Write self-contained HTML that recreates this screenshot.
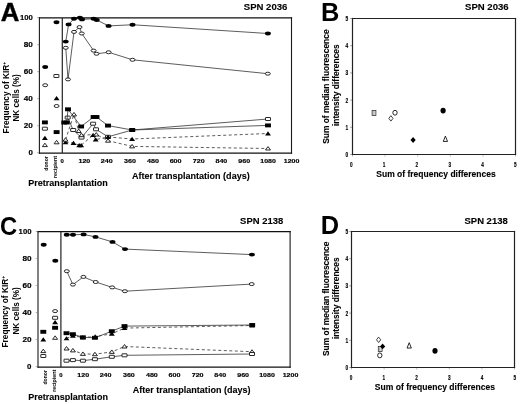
<!DOCTYPE html>
<html><head><meta charset="utf-8"><style>
html,body{margin:0;padding:0;background:#fff;width:520px;height:404px;overflow:hidden}
svg{display:block;filter:grayscale(1)}
text{font-family:"Liberation Sans", sans-serif}
</style></head><body>
<svg width="520" height="404" viewBox="0 0 520 404">
<rect width="520" height="404" fill="#fff"/>
<text x="0.80" y="21.20" font-size="25.0" text-anchor="start" font-weight="bold" fill="#000" textLength="18.6" lengthAdjust="spacingAndGlyphs" stroke="#000" stroke-width="0.4">A</text>
<text x="321.10" y="20.50" font-size="25.4" text-anchor="start" font-weight="bold" fill="#000">B</text>
<text x="-0.05" y="234.60" font-size="26" text-anchor="start" font-weight="bold" fill="#000" textLength="17.2" lengthAdjust="spacingAndGlyphs">C</text>
<text x="320.80" y="233.60" font-size="25.4" text-anchor="start" font-weight="bold" fill="#000">D</text>
<text x="243.80" y="9.80" font-size="9.5" text-anchor="start" font-weight="bold" fill="#000" textLength="43.6" lengthAdjust="spacingAndGlyphs" stroke="#000" stroke-width="0.12">SPN 2036</text>
<text x="465.00" y="10.20" font-size="9.5" text-anchor="start" font-weight="bold" fill="#000" textLength="43.6" lengthAdjust="spacingAndGlyphs" stroke="#000" stroke-width="0.12">SPN 2036</text>
<text x="240.10" y="224.00" font-size="9.5" text-anchor="start" font-weight="bold" fill="#000" textLength="43.2" lengthAdjust="spacingAndGlyphs" stroke="#000" stroke-width="0.12">SPN 2138</text>
<text x="464.50" y="224.40" font-size="9.5" text-anchor="start" font-weight="bold" fill="#000" textLength="43.2" lengthAdjust="spacingAndGlyphs" stroke="#000" stroke-width="0.12">SPN 2138</text>
<text x="131.90" y="178.50" font-size="9.0" text-anchor="start" font-weight="bold" fill="#000" textLength="117.8" lengthAdjust="spacingAndGlyphs" stroke="#000" stroke-width="0.1">After transplantation (days)</text>
<text x="132.70" y="392.90" font-size="9.0" text-anchor="start" font-weight="bold" fill="#000" textLength="117.8" lengthAdjust="spacingAndGlyphs" stroke="#000" stroke-width="0.1">After transplantation (days)</text>
<text x="28.20" y="185.90" font-size="8.8" text-anchor="start" font-weight="bold" fill="#000" textLength="79.6" lengthAdjust="spacingAndGlyphs" stroke="#000" stroke-width="0.1">Pretransplantation</text>
<text x="28.30" y="399.80" font-size="8.8" text-anchor="start" font-weight="bold" fill="#000" textLength="79.6" lengthAdjust="spacingAndGlyphs" stroke="#000" stroke-width="0.1">Pretransplantation</text>
<text x="376.30" y="176.75" font-size="8.3" text-anchor="start" font-weight="bold" fill="#000" textLength="119.4" lengthAdjust="spacingAndGlyphs" stroke="#000" stroke-width="0.12">Sum of frequency differences</text>
<text x="374.80" y="389.50" font-size="8.3" text-anchor="start" font-weight="bold" fill="#000" textLength="120.2" lengthAdjust="spacingAndGlyphs" stroke="#000" stroke-width="0.12">Sum of frequency differences</text>
<line x1="39.40" y1="17.30" x2="39.40" y2="153.70" stroke="#1a1a1a" stroke-width="1.1"/>
<line x1="291.50" y1="17.30" x2="291.50" y2="153.70" stroke="#1a1a1a" stroke-width="1.1"/>
<line x1="38.90" y1="17.90" x2="292.10" y2="17.90" stroke="#111" stroke-width="1.3"/>
<line x1="38.90" y1="153.10" x2="292.10" y2="153.10" stroke="#111" stroke-width="1.3"/>
<line x1="62.30" y1="17.90" x2="62.30" y2="153.10" stroke="#222" stroke-width="1.2"/>
<line x1="37.10" y1="152.75" x2="38.90" y2="152.75" stroke="#888" stroke-width="0.7"/>
<text x="32.90" y="155.10" font-size="6.6" text-anchor="end" font-weight="bold" fill="#000" textLength="4.4" lengthAdjust="spacingAndGlyphs" stroke="#000" stroke-width="0.15">0</text>
<line x1="37.10" y1="125.72" x2="38.90" y2="125.72" stroke="#888" stroke-width="0.7"/>
<text x="32.90" y="128.07" font-size="6.6" text-anchor="end" font-weight="bold" fill="#000" textLength="9.1" lengthAdjust="spacingAndGlyphs" stroke="#000" stroke-width="0.15">20</text>
<line x1="37.10" y1="98.69" x2="38.90" y2="98.69" stroke="#888" stroke-width="0.7"/>
<text x="32.90" y="101.04" font-size="6.6" text-anchor="end" font-weight="bold" fill="#000" textLength="9.1" lengthAdjust="spacingAndGlyphs" stroke="#000" stroke-width="0.15">40</text>
<line x1="37.10" y1="71.66" x2="38.90" y2="71.66" stroke="#888" stroke-width="0.7"/>
<text x="32.90" y="74.01" font-size="6.6" text-anchor="end" font-weight="bold" fill="#000" textLength="9.1" lengthAdjust="spacingAndGlyphs" stroke="#000" stroke-width="0.15">60</text>
<line x1="37.10" y1="44.63" x2="38.90" y2="44.63" stroke="#888" stroke-width="0.7"/>
<text x="32.90" y="46.98" font-size="6.6" text-anchor="end" font-weight="bold" fill="#000" textLength="9.1" lengthAdjust="spacingAndGlyphs" stroke="#000" stroke-width="0.15">80</text>
<line x1="37.10" y1="17.60" x2="38.90" y2="17.60" stroke="#888" stroke-width="0.7"/>
<text x="32.90" y="19.95" font-size="6.6" text-anchor="end" font-weight="bold" fill="#000" textLength="12.9" lengthAdjust="spacingAndGlyphs" stroke="#000" stroke-width="0.15">100</text>
<text x="62.10" y="162.60" font-size="5.4" text-anchor="middle" font-weight="bold" fill="#000" textLength="3.3" lengthAdjust="spacingAndGlyphs" stroke="#000" stroke-width="0.15">0</text>
<text x="84.40" y="162.60" font-size="5.4" text-anchor="middle" font-weight="bold" fill="#000" textLength="11.9" lengthAdjust="spacingAndGlyphs" stroke="#000" stroke-width="0.15">120</text>
<text x="106.70" y="162.60" font-size="5.4" text-anchor="middle" font-weight="bold" fill="#000" textLength="11.9" lengthAdjust="spacingAndGlyphs" stroke="#000" stroke-width="0.15">240</text>
<text x="130.00" y="162.60" font-size="5.4" text-anchor="middle" font-weight="bold" fill="#000" textLength="11.9" lengthAdjust="spacingAndGlyphs" stroke="#000" stroke-width="0.15">360</text>
<text x="153.00" y="162.60" font-size="5.4" text-anchor="middle" font-weight="bold" fill="#000" textLength="11.9" lengthAdjust="spacingAndGlyphs" stroke="#000" stroke-width="0.15">480</text>
<text x="175.60" y="162.60" font-size="5.4" text-anchor="middle" font-weight="bold" fill="#000" textLength="11.9" lengthAdjust="spacingAndGlyphs" stroke="#000" stroke-width="0.15">600</text>
<text x="198.75" y="162.60" font-size="5.4" text-anchor="middle" font-weight="bold" fill="#000" textLength="11.9" lengthAdjust="spacingAndGlyphs" stroke="#000" stroke-width="0.15">720</text>
<text x="221.40" y="162.60" font-size="5.4" text-anchor="middle" font-weight="bold" fill="#000" textLength="11.9" lengthAdjust="spacingAndGlyphs" stroke="#000" stroke-width="0.15">840</text>
<text x="244.25" y="162.60" font-size="5.4" text-anchor="middle" font-weight="bold" fill="#000" textLength="11.9" lengthAdjust="spacingAndGlyphs" stroke="#000" stroke-width="0.15">960</text>
<text x="268.10" y="162.60" font-size="5.4" text-anchor="middle" font-weight="bold" fill="#000" textLength="15.6" lengthAdjust="spacingAndGlyphs" stroke="#000" stroke-width="0.15">1080</text>
<text x="291.60" y="162.60" font-size="5.4" text-anchor="middle" font-weight="bold" fill="#000" textLength="15.6" lengthAdjust="spacingAndGlyphs" stroke="#000" stroke-width="0.15">1200</text>
<text x="47.90" y="170.70" font-size="5.2" text-anchor="start" font-weight="bold" fill="#000" textLength="14.5" lengthAdjust="spacingAndGlyphs" transform="rotate(-90 47.90 170.70)">donor</text>
<text x="57.30" y="178.00" font-size="5.2" text-anchor="start" font-weight="bold" fill="#000" textLength="22" lengthAdjust="spacingAndGlyphs" transform="rotate(-90 57.30 178.00)">recipient</text>
<text x="9.00" y="133.40" font-size="8.3" text-anchor="start" font-weight="bold" fill="#000" transform="rotate(-90 9.00 133.40)">Frequency of KIR<tspan font-size="5" dy="-3">+</tspan></text>
<text x="18.90" y="121.60" font-size="8.3" text-anchor="start" font-weight="bold" fill="#000" textLength="47.4" lengthAdjust="spacingAndGlyphs" transform="rotate(-90 18.90 121.60)">NK cells (%)</text>
<polyline points="65.75,41.6 68.6,24.4 74,18.75 79.9,17.75 82,19.4 93.6,18.75 96.75,20 108.6,25.9 132.5,24.75 267.9,33.5" fill="none" stroke="#333" stroke-width="0.8"/>
<ellipse cx="65.75" cy="41.6" rx="2.95" ry="1.95" fill="#000"/>
<ellipse cx="68.6" cy="24.4" rx="2.95" ry="1.95" fill="#000"/>
<ellipse cx="74" cy="18.75" rx="2.95" ry="1.95" fill="#000"/>
<ellipse cx="79.9" cy="17.75" rx="2.95" ry="1.95" fill="#000"/>
<ellipse cx="82" cy="19.4" rx="2.95" ry="1.95" fill="#000"/>
<ellipse cx="93.6" cy="18.75" rx="2.95" ry="1.95" fill="#000"/>
<ellipse cx="96.75" cy="20" rx="2.95" ry="1.95" fill="#000"/>
<ellipse cx="108.6" cy="25.9" rx="2.95" ry="1.95" fill="#000"/>
<ellipse cx="132.5" cy="24.75" rx="2.95" ry="1.95" fill="#000"/>
<ellipse cx="267.9" cy="33.5" rx="2.95" ry="1.95" fill="#000"/>
<polyline points="65.75,47.8 68,79.4 74,31.9 79.5,27.1 81.75,33.5 93.6,50.6 96.5,53.75 108.6,52.25 132.5,59.8 267.8,73.7" fill="none" stroke="#333" stroke-width="0.8"/>
<ellipse cx="65.75" cy="47.8" rx="2.5" ry="1.5" fill="#fff" stroke="#111" stroke-width="0.9"/>
<ellipse cx="68" cy="79.4" rx="2.5" ry="1.5" fill="#fff" stroke="#111" stroke-width="0.9"/>
<ellipse cx="74" cy="31.9" rx="2.5" ry="1.5" fill="#fff" stroke="#111" stroke-width="0.9"/>
<ellipse cx="79.5" cy="27.1" rx="2.5" ry="1.5" fill="#fff" stroke="#111" stroke-width="0.9"/>
<ellipse cx="81.75" cy="33.5" rx="2.5" ry="1.5" fill="#fff" stroke="#111" stroke-width="0.9"/>
<ellipse cx="93.6" cy="50.6" rx="2.5" ry="1.5" fill="#fff" stroke="#111" stroke-width="0.9"/>
<ellipse cx="96.5" cy="53.75" rx="2.5" ry="1.5" fill="#fff" stroke="#111" stroke-width="0.9"/>
<ellipse cx="108.6" cy="52.25" rx="2.5" ry="1.5" fill="#fff" stroke="#111" stroke-width="0.9"/>
<ellipse cx="132.5" cy="59.8" rx="2.5" ry="1.5" fill="#fff" stroke="#111" stroke-width="0.9"/>
<ellipse cx="267.8" cy="73.7" rx="2.5" ry="1.5" fill="#fff" stroke="#111" stroke-width="0.9"/>
<polyline points="67.7,117.6 73.2,130 81.5,137.6 93.1,123.7 96,129.3 108,136.8 132.2,130 268,119" fill="none" stroke="#333" stroke-width="0.8"/>
<rect x="65.2" y="116.1" width="5.0" height="3.0" rx="0.25" fill="#fff" stroke="#111" stroke-width="0.9"/>
<rect x="70.7" y="128.5" width="5.0" height="3.0" rx="0.25" fill="#fff" stroke="#111" stroke-width="0.9"/>
<rect x="79.0" y="136.1" width="5.0" height="3.0" rx="0.25" fill="#fff" stroke="#111" stroke-width="0.9"/>
<rect x="90.6" y="122.2" width="5.0" height="3.0" rx="0.25" fill="#fff" stroke="#111" stroke-width="0.9"/>
<rect x="93.5" y="127.80000000000001" width="5.0" height="3.0" rx="0.25" fill="#fff" stroke="#111" stroke-width="0.9"/>
<rect x="105.5" y="135.3" width="5.0" height="3.0" rx="0.25" fill="#fff" stroke="#111" stroke-width="0.9"/>
<rect x="129.7" y="128.5" width="5.0" height="3.0" rx="0.25" fill="#fff" stroke="#111" stroke-width="0.9"/>
<rect x="265.5" y="117.5" width="5.0" height="3.0" rx="0.25" fill="#fff" stroke="#111" stroke-width="0.9"/>
<polyline points="64.3,122.5 66.8,122.5 68,109.3 81.1,126.5 93.6,117 96.5,117 108,125.6 132.2,130 268,125.4" fill="none" stroke="#333" stroke-width="0.8"/>
<rect x="61.349999999999994" y="120.55" width="5.9" height="3.9" fill="#000"/>
<rect x="63.849999999999994" y="120.55" width="5.9" height="3.9" fill="#000"/>
<rect x="65.05" y="107.35" width="5.9" height="3.9" fill="#000"/>
<rect x="78.14999999999999" y="124.55" width="5.9" height="3.9" fill="#000"/>
<rect x="90.64999999999999" y="115.05" width="5.9" height="3.9" fill="#000"/>
<rect x="93.55" y="115.05" width="5.9" height="3.9" fill="#000"/>
<rect x="105.05" y="123.64999999999999" width="5.9" height="3.9" fill="#000"/>
<rect x="129.25" y="128.05" width="5.9" height="3.9" fill="#000"/>
<rect x="265.05" y="123.45" width="5.9" height="3.9" fill="#000"/>
<polyline points="65.5,142.4 73.5,143.1 79.2,145.2 81.2,145.2 93.1,135 95.7,139.6 108,137 132.1,139 268,133.5" fill="none" stroke="#333" stroke-width="0.8" stroke-dasharray="3,2.5"/>
<path d="M65.5,140.15 L68.45,144.35 L62.55,144.35 Z" fill="#000"/>
<path d="M73.5,140.85 L76.45,145.04999999999998 L70.55,145.04999999999998 Z" fill="#000"/>
<path d="M79.2,142.95 L82.15,147.14999999999998 L76.25,147.14999999999998 Z" fill="#000"/>
<path d="M81.2,142.95 L84.15,147.14999999999998 L78.25,147.14999999999998 Z" fill="#000"/>
<path d="M93.1,132.75 L96.05,136.95 L90.14999999999999,136.95 Z" fill="#000"/>
<path d="M95.7,137.35 L98.65,141.54999999999998 L92.75,141.54999999999998 Z" fill="#000"/>
<path d="M108,134.75 L110.95,138.95 L105.05,138.95 Z" fill="#000"/>
<path d="M132.1,136.75 L135.04999999999998,140.95 L129.15,140.95 Z" fill="#000"/>
<path d="M268,131.25 L270.95,135.45 L265.05,135.45 Z" fill="#000"/>
<polyline points="65.5,139.7 74,114.4 78.7,131 81.5,135.2 96.3,134.5 108,140.7 132.1,146.4 268,148.5" fill="none" stroke="#333" stroke-width="0.8" stroke-dasharray="3,2.5"/>
<path d="M65.5,137.75 L68.0,141.2 L63.0,141.2 Z" fill="#fff" stroke="#111" stroke-width="0.9" stroke-linejoin="round"/>
<path d="M74,112.45 L76.5,115.9 L71.5,115.9 Z" fill="#fff" stroke="#111" stroke-width="0.9" stroke-linejoin="round"/>
<path d="M78.7,129.05 L81.2,132.5 L76.2,132.5 Z" fill="#fff" stroke="#111" stroke-width="0.9" stroke-linejoin="round"/>
<path d="M81.5,133.25 L84.0,136.7 L79.0,136.7 Z" fill="#fff" stroke="#111" stroke-width="0.9" stroke-linejoin="round"/>
<path d="M96.3,132.55 L98.8,136.0 L93.8,136.0 Z" fill="#fff" stroke="#111" stroke-width="0.9" stroke-linejoin="round"/>
<path d="M108,138.75 L110.5,142.2 L105.5,142.2 Z" fill="#fff" stroke="#111" stroke-width="0.9" stroke-linejoin="round"/>
<path d="M132.1,144.45000000000002 L134.6,147.9 L129.6,147.9 Z" fill="#fff" stroke="#111" stroke-width="0.9" stroke-linejoin="round"/>
<path d="M268,146.55 L270.5,150.0 L265.5,150.0 Z" fill="#fff" stroke="#111" stroke-width="0.9" stroke-linejoin="round"/>
<ellipse cx="45.2" cy="67" rx="2.95" ry="1.95" fill="#000"/>
<ellipse cx="45.2" cy="85.2" rx="2.5" ry="1.5" fill="#fff" stroke="#111" stroke-width="0.9"/>
<rect x="41.949999999999996" y="120.45" width="5.9" height="3.9" fill="#000"/>
<rect x="42.4" y="127.19999999999999" width="5.0" height="3.0" rx="0.25" fill="#fff" stroke="#111" stroke-width="0.9"/>
<path d="M44.9,135.75 L47.85,139.95 L41.949999999999996,139.95 Z" fill="#000"/>
<path d="M44.9,143.15 L47.4,146.6 L42.4,146.6 Z" fill="#fff" stroke="#111" stroke-width="0.9" stroke-linejoin="round"/>
<ellipse cx="56.5" cy="22.3" rx="2.95" ry="1.95" fill="#000"/>
<rect x="53.9" y="74.5" width="5.0" height="3.0" rx="0.25" fill="#fff" stroke="#111" stroke-width="0.9"/>
<path d="M56.6,95.95 L59.550000000000004,100.15 L53.65,100.15 Z" fill="#000"/>
<ellipse cx="56.6" cy="106" rx="2.5" ry="1.5" fill="#fff" stroke="#111" stroke-width="0.9"/>
<rect x="53.65" y="130.15" width="5.9" height="3.9" fill="#000"/>
<path d="M56.6,140.35000000000002 L59.1,143.8 L54.1,143.8 Z" fill="#fff" stroke="#111" stroke-width="0.9" stroke-linejoin="round"/>
<line x1="38.00" y1="231.10" x2="38.00" y2="367.70" stroke="#1a1a1a" stroke-width="1.1"/>
<line x1="290.10" y1="231.10" x2="290.10" y2="367.70" stroke="#1a1a1a" stroke-width="1.1"/>
<line x1="37.50" y1="231.70" x2="290.70" y2="231.70" stroke="#111" stroke-width="1.3"/>
<line x1="37.50" y1="367.10" x2="290.70" y2="367.10" stroke="#111" stroke-width="1.3"/>
<line x1="60.90" y1="231.70" x2="60.90" y2="367.10" stroke="#222" stroke-width="1.2"/>
<line x1="35.70" y1="366.55" x2="37.50" y2="366.55" stroke="#888" stroke-width="0.7"/>
<text x="31.50" y="368.90" font-size="6.6" text-anchor="end" font-weight="bold" fill="#000" textLength="4.4" lengthAdjust="spacingAndGlyphs" stroke="#000" stroke-width="0.15">0</text>
<line x1="35.70" y1="339.52" x2="37.50" y2="339.52" stroke="#888" stroke-width="0.7"/>
<text x="31.50" y="341.87" font-size="6.6" text-anchor="end" font-weight="bold" fill="#000" textLength="9.1" lengthAdjust="spacingAndGlyphs" stroke="#000" stroke-width="0.15">20</text>
<line x1="35.70" y1="312.49" x2="37.50" y2="312.49" stroke="#888" stroke-width="0.7"/>
<text x="31.50" y="314.84" font-size="6.6" text-anchor="end" font-weight="bold" fill="#000" textLength="9.1" lengthAdjust="spacingAndGlyphs" stroke="#000" stroke-width="0.15">40</text>
<line x1="35.70" y1="285.46" x2="37.50" y2="285.46" stroke="#888" stroke-width="0.7"/>
<text x="31.50" y="287.81" font-size="6.6" text-anchor="end" font-weight="bold" fill="#000" textLength="9.1" lengthAdjust="spacingAndGlyphs" stroke="#000" stroke-width="0.15">60</text>
<line x1="35.70" y1="258.43" x2="37.50" y2="258.43" stroke="#888" stroke-width="0.7"/>
<text x="31.50" y="260.78" font-size="6.6" text-anchor="end" font-weight="bold" fill="#000" textLength="9.1" lengthAdjust="spacingAndGlyphs" stroke="#000" stroke-width="0.15">80</text>
<line x1="35.70" y1="231.40" x2="37.50" y2="231.40" stroke="#888" stroke-width="0.7"/>
<text x="31.50" y="233.75" font-size="6.6" text-anchor="end" font-weight="bold" fill="#000" textLength="12.9" lengthAdjust="spacingAndGlyphs" stroke="#000" stroke-width="0.15">100</text>
<text x="61.00" y="376.90" font-size="5.4" text-anchor="middle" font-weight="bold" fill="#000" textLength="3.3" lengthAdjust="spacingAndGlyphs" stroke="#000" stroke-width="0.15">0</text>
<text x="83.30" y="376.90" font-size="5.4" text-anchor="middle" font-weight="bold" fill="#000" textLength="11.9" lengthAdjust="spacingAndGlyphs" stroke="#000" stroke-width="0.15">120</text>
<text x="105.60" y="376.90" font-size="5.4" text-anchor="middle" font-weight="bold" fill="#000" textLength="11.9" lengthAdjust="spacingAndGlyphs" stroke="#000" stroke-width="0.15">240</text>
<text x="128.90" y="376.90" font-size="5.4" text-anchor="middle" font-weight="bold" fill="#000" textLength="11.9" lengthAdjust="spacingAndGlyphs" stroke="#000" stroke-width="0.15">360</text>
<text x="151.90" y="376.90" font-size="5.4" text-anchor="middle" font-weight="bold" fill="#000" textLength="11.9" lengthAdjust="spacingAndGlyphs" stroke="#000" stroke-width="0.15">480</text>
<text x="174.50" y="376.90" font-size="5.4" text-anchor="middle" font-weight="bold" fill="#000" textLength="11.9" lengthAdjust="spacingAndGlyphs" stroke="#000" stroke-width="0.15">600</text>
<text x="197.65" y="376.90" font-size="5.4" text-anchor="middle" font-weight="bold" fill="#000" textLength="11.9" lengthAdjust="spacingAndGlyphs" stroke="#000" stroke-width="0.15">720</text>
<text x="220.30" y="376.90" font-size="5.4" text-anchor="middle" font-weight="bold" fill="#000" textLength="11.9" lengthAdjust="spacingAndGlyphs" stroke="#000" stroke-width="0.15">840</text>
<text x="243.15" y="376.90" font-size="5.4" text-anchor="middle" font-weight="bold" fill="#000" textLength="11.9" lengthAdjust="spacingAndGlyphs" stroke="#000" stroke-width="0.15">960</text>
<text x="267.00" y="376.90" font-size="5.4" text-anchor="middle" font-weight="bold" fill="#000" textLength="15.6" lengthAdjust="spacingAndGlyphs" stroke="#000" stroke-width="0.15">1080</text>
<text x="290.50" y="376.90" font-size="5.4" text-anchor="middle" font-weight="bold" fill="#000" textLength="15.6" lengthAdjust="spacingAndGlyphs" stroke="#000" stroke-width="0.15">1200</text>
<text x="46.50" y="384.50" font-size="5.2" text-anchor="start" font-weight="bold" fill="#000" textLength="14.5" lengthAdjust="spacingAndGlyphs" transform="rotate(-90 46.50 384.50)">donor</text>
<text x="55.90" y="391.80" font-size="5.2" text-anchor="start" font-weight="bold" fill="#000" textLength="22" lengthAdjust="spacingAndGlyphs" transform="rotate(-90 55.90 391.80)">recipient</text>
<text x="7.90" y="347.50" font-size="8.3" text-anchor="start" font-weight="bold" fill="#000" transform="rotate(-90 7.90 347.50)">Frequency of KIR<tspan font-size="5" dy="-3">+</tspan></text>
<text x="18.60" y="334.60" font-size="8.3" text-anchor="start" font-weight="bold" fill="#000" textLength="47.4" lengthAdjust="spacingAndGlyphs" transform="rotate(-90 18.60 334.60)">NK cells (%)</text>
<polyline points="66.75,234.75 73,234.75 83.6,234.4 95.5,236.9 112.5,241.9 125,249.1 251.9,254.6" fill="none" stroke="#333" stroke-width="0.8"/>
<ellipse cx="66.75" cy="234.75" rx="2.95" ry="1.95" fill="#000"/>
<ellipse cx="73" cy="234.75" rx="2.95" ry="1.95" fill="#000"/>
<ellipse cx="83.6" cy="234.4" rx="2.95" ry="1.95" fill="#000"/>
<ellipse cx="95.5" cy="236.9" rx="2.95" ry="1.95" fill="#000"/>
<ellipse cx="112.5" cy="241.9" rx="2.95" ry="1.95" fill="#000"/>
<ellipse cx="125" cy="249.1" rx="2.95" ry="1.95" fill="#000"/>
<ellipse cx="251.9" cy="254.6" rx="2.95" ry="1.95" fill="#000"/>
<polyline points="66.8,271.2 72.9,284.6 83.4,276.9 95.7,282 112.2,287.4 124.9,291.2 251.7,284.1" fill="none" stroke="#333" stroke-width="0.8"/>
<ellipse cx="66.8" cy="271.2" rx="2.5" ry="1.5" fill="#fff" stroke="#111" stroke-width="0.9"/>
<ellipse cx="72.9" cy="284.6" rx="2.5" ry="1.5" fill="#fff" stroke="#111" stroke-width="0.9"/>
<ellipse cx="83.4" cy="276.9" rx="2.5" ry="1.5" fill="#fff" stroke="#111" stroke-width="0.9"/>
<ellipse cx="95.7" cy="282" rx="2.5" ry="1.5" fill="#fff" stroke="#111" stroke-width="0.9"/>
<ellipse cx="112.2" cy="287.4" rx="2.5" ry="1.5" fill="#fff" stroke="#111" stroke-width="0.9"/>
<ellipse cx="124.9" cy="291.2" rx="2.5" ry="1.5" fill="#fff" stroke="#111" stroke-width="0.9"/>
<ellipse cx="251.7" cy="284.1" rx="2.5" ry="1.5" fill="#fff" stroke="#111" stroke-width="0.9"/>
<polyline points="66.5,333.2 72.9,334.2 82.9,337.3 94.9,337.8 111.8,331.2 124.5,326.1 252.2,325" fill="none" stroke="#333" stroke-width="0.8"/>
<rect x="63.55" y="331.25" width="5.9" height="3.9" fill="#000"/>
<rect x="69.95" y="332.25" width="5.9" height="3.9" fill="#000"/>
<rect x="79.95" y="335.35" width="5.9" height="3.9" fill="#000"/>
<rect x="91.95" y="335.85" width="5.9" height="3.9" fill="#000"/>
<rect x="108.85" y="329.25" width="5.9" height="3.9" fill="#000"/>
<rect x="121.55" y="324.15000000000003" width="5.9" height="3.9" fill="#000"/>
<rect x="249.25" y="323.05" width="5.9" height="3.9" fill="#000"/>
<polyline points="66.5,338.4 72.9,335.8 82.9,337.5 95.2,336.6 111.8,333.8 124.5,328.1 252.2,325.5" fill="none" stroke="#333" stroke-width="0.8" stroke-dasharray="3,2.5"/>
<path d="M66.5,336.15 L69.45,340.34999999999997 L63.55,340.34999999999997 Z" fill="#000"/>
<path d="M72.9,333.55 L75.85000000000001,337.75 L69.95,337.75 Z" fill="#000"/>
<path d="M82.9,335.25 L85.85000000000001,339.45 L79.95,339.45 Z" fill="#000"/>
<path d="M95.2,334.35 L98.15,338.55 L92.25,338.55 Z" fill="#000"/>
<path d="M111.8,331.55 L114.75,335.75 L108.85,335.75 Z" fill="#000"/>
<path d="M124.5,325.85 L127.45,330.05 L121.55,330.05 Z" fill="#000"/>
<path d="M252.2,323.25 L255.14999999999998,327.45 L249.25,327.45 Z" fill="#000"/>
<polyline points="66.5,348.5 72.9,350.4 82.9,353.9 94.9,354.2 111.8,351.9 124.5,346.5 252,351.7" fill="none" stroke="#333" stroke-width="0.8" stroke-dasharray="3,2.5"/>
<path d="M66.5,346.55 L69.0,350.0 L64.0,350.0 Z" fill="#fff" stroke="#111" stroke-width="0.9" stroke-linejoin="round"/>
<path d="M72.9,348.45 L75.4,351.9 L70.4,351.9 Z" fill="#fff" stroke="#111" stroke-width="0.9" stroke-linejoin="round"/>
<path d="M82.9,351.95 L85.4,355.4 L80.4,355.4 Z" fill="#fff" stroke="#111" stroke-width="0.9" stroke-linejoin="round"/>
<path d="M94.9,352.25 L97.4,355.7 L92.4,355.7 Z" fill="#fff" stroke="#111" stroke-width="0.9" stroke-linejoin="round"/>
<path d="M111.8,349.95 L114.3,353.4 L109.3,353.4 Z" fill="#fff" stroke="#111" stroke-width="0.9" stroke-linejoin="round"/>
<path d="M124.5,344.55 L127.0,348.0 L122.0,348.0 Z" fill="#fff" stroke="#111" stroke-width="0.9" stroke-linejoin="round"/>
<path d="M252,349.75 L254.5,353.2 L249.5,353.2 Z" fill="#fff" stroke="#111" stroke-width="0.9" stroke-linejoin="round"/>
<polyline points="66.5,360.7 72.9,360.1 82.9,360.7 94.9,359.2 111.8,356.8 124.5,355.3 252,354" fill="none" stroke="#333" stroke-width="0.8"/>
<rect x="64.0" y="359.2" width="5.0" height="3.0" rx="0.25" fill="#fff" stroke="#111" stroke-width="0.9"/>
<rect x="70.4" y="358.6" width="5.0" height="3.0" rx="0.25" fill="#fff" stroke="#111" stroke-width="0.9"/>
<rect x="80.4" y="359.2" width="5.0" height="3.0" rx="0.25" fill="#fff" stroke="#111" stroke-width="0.9"/>
<rect x="92.4" y="357.7" width="5.0" height="3.0" rx="0.25" fill="#fff" stroke="#111" stroke-width="0.9"/>
<rect x="109.3" y="355.3" width="5.0" height="3.0" rx="0.25" fill="#fff" stroke="#111" stroke-width="0.9"/>
<rect x="122.0" y="353.8" width="5.0" height="3.0" rx="0.25" fill="#fff" stroke="#111" stroke-width="0.9"/>
<rect x="249.5" y="352.5" width="5.0" height="3.0" rx="0.25" fill="#fff" stroke="#111" stroke-width="0.9"/>
<ellipse cx="43.7" cy="244.8" rx="2.95" ry="1.95" fill="#000"/>
<rect x="40.349999999999994" y="329.85" width="5.9" height="3.9" fill="#000"/>
<path d="M43.3,337.35 L46.25,341.55 L40.349999999999994,341.55 Z" fill="#000"/>
<path d="M43.3,349.15000000000003 L45.8,352.6 L40.8,352.6 Z" fill="#fff" stroke="#111" stroke-width="0.9" stroke-linejoin="round"/>
<rect x="40.8" y="354.5" width="5.0" height="3.0" rx="0.25" fill="#fff" stroke="#111" stroke-width="0.9"/>
<ellipse cx="55.3" cy="260.7" rx="2.95" ry="1.95" fill="#000"/>
<ellipse cx="55.1" cy="311.1" rx="2.5" ry="1.5" fill="#fff" stroke="#111" stroke-width="0.9"/>
<rect x="52.6" y="316.3" width="5.0" height="3.0" rx="0.25" fill="#fff" stroke="#111" stroke-width="0.9"/>
<path d="M55.1,319.95 L58.050000000000004,324.15 L52.15,324.15 Z" fill="#000"/>
<rect x="52.15" y="325.85" width="5.9" height="3.9" fill="#000"/>
<path d="M55.1,335.85 L57.6,339.3 L52.6,339.3 Z" fill="#fff" stroke="#111" stroke-width="0.9" stroke-linejoin="round"/>
<line x1="352.50" y1="17.90" x2="352.50" y2="155.10" stroke="#222" stroke-width="1.2"/>
<line x1="515.50" y1="17.90" x2="515.50" y2="155.10" stroke="#222" stroke-width="1.2"/>
<line x1="351.90" y1="18.50" x2="516.10" y2="18.50" stroke="#222" stroke-width="1.2"/>
<line x1="351.90" y1="154.50" x2="516.10" y2="154.50" stroke="#222" stroke-width="1.2"/>
<line x1="350.30" y1="154.50" x2="351.90" y2="154.50" stroke="#666" stroke-width="0.7"/>
<text x="346.80" y="156.95" font-size="7.0" text-anchor="middle" font-weight="bold" fill="#000" textLength="2.7" lengthAdjust="spacingAndGlyphs" stroke="#000" stroke-width="0.15">0</text>
<line x1="352.50" y1="155.10" x2="352.50" y2="156.50" stroke="#888" stroke-width="0.6"/>
<text x="351.30" y="166.70" font-size="6.6" text-anchor="middle" font-weight="bold" fill="#000" textLength="2.6" lengthAdjust="spacingAndGlyphs" stroke="#000" stroke-width="0.15">0</text>
<line x1="350.30" y1="127.30" x2="351.90" y2="127.30" stroke="#666" stroke-width="0.7"/>
<text x="346.80" y="129.75" font-size="7.0" text-anchor="middle" font-weight="bold" fill="#000" textLength="2.7" lengthAdjust="spacingAndGlyphs" stroke="#000" stroke-width="0.15">1</text>
<line x1="385.10" y1="155.10" x2="385.10" y2="156.50" stroke="#888" stroke-width="0.6"/>
<text x="384.10" y="166.70" font-size="6.6" text-anchor="middle" font-weight="bold" fill="#000" textLength="2.6" lengthAdjust="spacingAndGlyphs" stroke="#000" stroke-width="0.15">1</text>
<line x1="350.30" y1="100.10" x2="351.90" y2="100.10" stroke="#666" stroke-width="0.7"/>
<text x="346.80" y="102.55" font-size="7.0" text-anchor="middle" font-weight="bold" fill="#000" textLength="2.7" lengthAdjust="spacingAndGlyphs" stroke="#000" stroke-width="0.15">2</text>
<line x1="417.70" y1="155.10" x2="417.70" y2="156.50" stroke="#888" stroke-width="0.6"/>
<text x="416.90" y="166.70" font-size="6.6" text-anchor="middle" font-weight="bold" fill="#000" textLength="2.6" lengthAdjust="spacingAndGlyphs" stroke="#000" stroke-width="0.15">2</text>
<line x1="350.30" y1="72.90" x2="351.90" y2="72.90" stroke="#666" stroke-width="0.7"/>
<text x="346.80" y="75.35" font-size="7.0" text-anchor="middle" font-weight="bold" fill="#000" textLength="2.7" lengthAdjust="spacingAndGlyphs" stroke="#000" stroke-width="0.15">3</text>
<line x1="450.30" y1="155.10" x2="450.30" y2="156.50" stroke="#888" stroke-width="0.6"/>
<text x="449.70" y="166.70" font-size="6.6" text-anchor="middle" font-weight="bold" fill="#000" textLength="2.6" lengthAdjust="spacingAndGlyphs" stroke="#000" stroke-width="0.15">3</text>
<line x1="350.30" y1="45.70" x2="351.90" y2="45.70" stroke="#666" stroke-width="0.7"/>
<text x="346.80" y="48.15" font-size="7.0" text-anchor="middle" font-weight="bold" fill="#000" textLength="2.7" lengthAdjust="spacingAndGlyphs" stroke="#000" stroke-width="0.15">4</text>
<line x1="482.90" y1="155.10" x2="482.90" y2="156.50" stroke="#888" stroke-width="0.6"/>
<text x="482.50" y="166.70" font-size="6.6" text-anchor="middle" font-weight="bold" fill="#000" textLength="2.6" lengthAdjust="spacingAndGlyphs" stroke="#000" stroke-width="0.15">4</text>
<line x1="350.30" y1="18.50" x2="351.90" y2="18.50" stroke="#666" stroke-width="0.7"/>
<text x="346.80" y="20.95" font-size="7.0" text-anchor="middle" font-weight="bold" fill="#000" textLength="2.7" lengthAdjust="spacingAndGlyphs" stroke="#000" stroke-width="0.15">5</text>
<line x1="515.50" y1="155.10" x2="515.50" y2="156.50" stroke="#888" stroke-width="0.6"/>
<text x="515.30" y="166.70" font-size="6.6" text-anchor="middle" font-weight="bold" fill="#000" textLength="2.6" lengthAdjust="spacingAndGlyphs" stroke="#000" stroke-width="0.15">5</text>
<text x="329.40" y="143.80" font-size="8.6" text-anchor="start" font-weight="bold" fill="#000" textLength="114.4" lengthAdjust="spacingAndGlyphs" transform="rotate(-90 329.40 143.80)" stroke="#000" stroke-width="0.1">Sum of median fluorescence</text>
<text x="339.10" y="126.00" font-size="8.6" text-anchor="start" font-weight="bold" fill="#000" textLength="81.7" lengthAdjust="spacingAndGlyphs" transform="rotate(-90 339.10 126.00)" stroke="#000" stroke-width="0.1">intensity differences</text>
<rect x="372.09999999999997" y="110.4" width="3.8" height="5.0" fill="#e0e0e0" stroke="#333" stroke-width="0.8"/>
<line x1="373.1" y1="110.8" x2="373.1" y2="115.00000000000001" stroke="#888" stroke-width="0.6"/>
<line x1="374.9" y1="110.8" x2="374.9" y2="115.00000000000001" stroke="#aaa" stroke-width="0.5"/>
<path d="M390.9,115.7 L393.0,118.4 L390.9,121.10000000000001 L388.79999999999995,118.4 Z" fill="#fff" stroke="#111" stroke-width="0.8"/>
<ellipse cx="395" cy="112.75" rx="2.15" ry="2.4499999999999997" fill="#fff" stroke="#111" stroke-width="0.9"/>
<path d="M413.1,137.1 L415.70000000000005,140 L413.1,142.9 L410.5,140 Z" fill="#000"/>
<ellipse cx="443.1" cy="110.6" rx="2.6" ry="2.9" fill="#000"/>
<path d="M445.4,136.1 L447.55,141.45000000000002 L443.24999999999994,141.45000000000002 Z" fill="#fff" stroke="#111" stroke-width="0.9" stroke-linejoin="round"/>
<line x1="351.50" y1="230.90" x2="351.50" y2="368.10" stroke="#222" stroke-width="1.2"/>
<line x1="514.50" y1="230.90" x2="514.50" y2="368.10" stroke="#222" stroke-width="1.2"/>
<line x1="350.90" y1="231.50" x2="515.10" y2="231.50" stroke="#222" stroke-width="1.2"/>
<line x1="350.90" y1="367.50" x2="515.10" y2="367.50" stroke="#222" stroke-width="1.2"/>
<line x1="349.30" y1="367.50" x2="350.90" y2="367.50" stroke="#666" stroke-width="0.7"/>
<text x="346.80" y="369.95" font-size="7.0" text-anchor="middle" font-weight="bold" fill="#000" textLength="2.7" lengthAdjust="spacingAndGlyphs" stroke="#000" stroke-width="0.15">0</text>
<line x1="351.50" y1="368.10" x2="351.50" y2="369.50" stroke="#888" stroke-width="0.6"/>
<text x="351.00" y="380.30" font-size="6.6" text-anchor="middle" font-weight="bold" fill="#000" textLength="2.6" lengthAdjust="spacingAndGlyphs" stroke="#000" stroke-width="0.15">0</text>
<line x1="349.30" y1="340.30" x2="350.90" y2="340.30" stroke="#666" stroke-width="0.7"/>
<text x="346.80" y="342.75" font-size="7.0" text-anchor="middle" font-weight="bold" fill="#000" textLength="2.7" lengthAdjust="spacingAndGlyphs" stroke="#000" stroke-width="0.15">1</text>
<line x1="384.10" y1="368.10" x2="384.10" y2="369.50" stroke="#888" stroke-width="0.6"/>
<text x="383.75" y="380.30" font-size="6.6" text-anchor="middle" font-weight="bold" fill="#000" textLength="2.6" lengthAdjust="spacingAndGlyphs" stroke="#000" stroke-width="0.15">1</text>
<line x1="349.30" y1="313.10" x2="350.90" y2="313.10" stroke="#666" stroke-width="0.7"/>
<text x="346.80" y="315.55" font-size="7.0" text-anchor="middle" font-weight="bold" fill="#000" textLength="2.7" lengthAdjust="spacingAndGlyphs" stroke="#000" stroke-width="0.15">2</text>
<line x1="416.70" y1="368.10" x2="416.70" y2="369.50" stroke="#888" stroke-width="0.6"/>
<text x="416.50" y="380.30" font-size="6.6" text-anchor="middle" font-weight="bold" fill="#000" textLength="2.6" lengthAdjust="spacingAndGlyphs" stroke="#000" stroke-width="0.15">2</text>
<line x1="349.30" y1="285.90" x2="350.90" y2="285.90" stroke="#666" stroke-width="0.7"/>
<text x="346.80" y="288.35" font-size="7.0" text-anchor="middle" font-weight="bold" fill="#000" textLength="2.7" lengthAdjust="spacingAndGlyphs" stroke="#000" stroke-width="0.15">3</text>
<line x1="449.30" y1="368.10" x2="449.30" y2="369.50" stroke="#888" stroke-width="0.6"/>
<text x="449.25" y="380.30" font-size="6.6" text-anchor="middle" font-weight="bold" fill="#000" textLength="2.6" lengthAdjust="spacingAndGlyphs" stroke="#000" stroke-width="0.15">3</text>
<line x1="349.30" y1="258.70" x2="350.90" y2="258.70" stroke="#666" stroke-width="0.7"/>
<text x="346.80" y="261.15" font-size="7.0" text-anchor="middle" font-weight="bold" fill="#000" textLength="2.7" lengthAdjust="spacingAndGlyphs" stroke="#000" stroke-width="0.15">4</text>
<line x1="481.90" y1="368.10" x2="481.90" y2="369.50" stroke="#888" stroke-width="0.6"/>
<text x="482.00" y="380.30" font-size="6.6" text-anchor="middle" font-weight="bold" fill="#000" textLength="2.6" lengthAdjust="spacingAndGlyphs" stroke="#000" stroke-width="0.15">4</text>
<line x1="349.30" y1="231.50" x2="350.90" y2="231.50" stroke="#666" stroke-width="0.7"/>
<text x="346.80" y="233.95" font-size="7.0" text-anchor="middle" font-weight="bold" fill="#000" textLength="2.7" lengthAdjust="spacingAndGlyphs" stroke="#000" stroke-width="0.15">5</text>
<line x1="514.50" y1="368.10" x2="514.50" y2="369.50" stroke="#888" stroke-width="0.6"/>
<text x="514.75" y="380.30" font-size="6.6" text-anchor="middle" font-weight="bold" fill="#000" textLength="2.6" lengthAdjust="spacingAndGlyphs" stroke="#000" stroke-width="0.15">5</text>
<text x="328.90" y="356.00" font-size="8.6" text-anchor="start" font-weight="bold" fill="#000" textLength="114.4" lengthAdjust="spacingAndGlyphs" transform="rotate(-90 328.90 356.00)" stroke="#000" stroke-width="0.1">Sum of median fluorescence</text>
<text x="338.70" y="339.10" font-size="8.6" text-anchor="start" font-weight="bold" fill="#000" textLength="81.7" lengthAdjust="spacingAndGlyphs" transform="rotate(-90 338.70 339.10)" stroke="#000" stroke-width="0.1">intensity differences</text>
<path d="M378.6,337.1 L380.70000000000005,339.8 L378.6,342.5 L376.5,339.8 Z" fill="#fff" stroke="#111" stroke-width="0.8"/>
<rect x="378.29999999999995" y="346.5" width="3.8" height="5.0" fill="#e0e0e0" stroke="#333" stroke-width="0.8"/>
<line x1="379.3" y1="346.90000000000003" x2="379.3" y2="351.09999999999997" stroke="#888" stroke-width="0.6"/>
<line x1="381.09999999999997" y1="346.90000000000003" x2="381.09999999999997" y2="351.09999999999997" stroke="#aaa" stroke-width="0.5"/>
<path d="M382.6,343.5 L385.20000000000005,346.4 L382.6,349.29999999999995 L380.0,346.4 Z" fill="#000"/>
<ellipse cx="379.8" cy="355.4" rx="2.15" ry="2.4499999999999997" fill="#fff" stroke="#111" stroke-width="0.9"/>
<path d="M409.2,342.70000000000005 L411.35,348.05 L407.04999999999995,348.05 Z" fill="#fff" stroke="#111" stroke-width="0.9" stroke-linejoin="round"/>
<ellipse cx="435" cy="350.8" rx="2.6" ry="2.9" fill="#000"/>
</svg>
</body></html>
